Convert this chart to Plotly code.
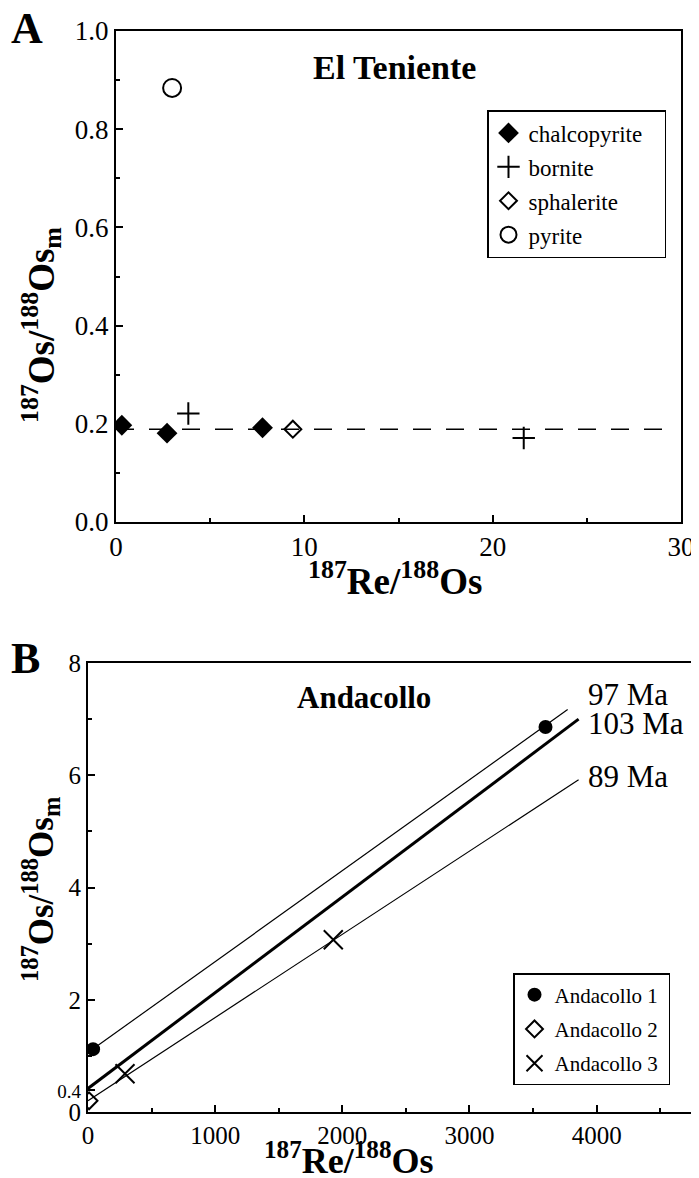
import plotly.graph_objects as go

FONT = "Liberation Serif"
# the page body has an 8px margin; figure sized so it fills the 699x1178 window
OFF = 8
W, H = 699 - OFF, 1178 - OFF
NB = "\u00a0"

# ---------------- Panel A data: El Teniente ----------------
chalco_x = [0.31, 2.71, 7.78]
chalco_y = [0.197, 0.181, 0.192]
bornite_x = [3.84, 21.65]
bornite_y = [0.221, 0.171]
sphal_x = [9.39]
sphal_y = [0.189]
pyrite_x = [2.98]
pyrite_y = [0.884]
ref_line_x = [0.0, 29.3]
ref_line_y = [0.189, 0.189]
a_xticks = [0, 10, 20, 30]
a_yticks = [0.0, 0.2, 0.4, 0.6, 0.8, 1.0]
a_yticktext = ["0.0", "0.2", "0.4", "0.6", "0.8", "1.0"]

# ---------------- Panel B data: Andacollo ----------------
and1_x = [40, 3598]
and1_y = [1.12, 6.86]
and2_x = [8]
and2_y = [0.20]
and3_x = [291, 1929]
and3_y = [0.68, 3.07]
iso_names = ["97 Ma", "103 Ma", "89 Ma"]
iso_x = [[0, 3772], [0, 3858], [0, 3858]]
iso_y = [[1.06, 7.17], [0.42, 7.00], [0.20, 5.92]]
iso_width = [1.2, 3.0, 1.2]
iso_label_x = [3913, 3913, 3913]
iso_label_y = [7.43, 6.93, 5.97]
b_xticks = [0, 1000, 2000, 3000, 4000]
b_yticks = [0, 0.4, 2, 4, 6, 8]
b_yticktext = ["0", "<span style='font-size:19px'>0.4</span>", "2", "4", "6", "8"]


def px(x):
    return (x - OFF) / W


def py(y):
    return 1 - (y - OFF) / H


fig = go.Figure()

# Panel A traces
fig.add_trace(go.Scatter(x=ref_line_x, y=ref_line_y, mode="lines",
                         line=dict(color="black", width=1.4, dash="18px,15px"),
                         showlegend=False, xaxis="x", yaxis="y", hoverinfo="skip"))
fig.add_trace(go.Scatter(x=chalco_x, y=chalco_y, mode="markers", name="chalcopyrite" + NB * 3,
                         marker=dict(symbol="diamond", size=16, color="black"),
                         legend="legend", legendgroup="a1", xaxis="x", yaxis="y"))
fig.add_trace(go.Scatter(x=bornite_x, y=bornite_y, mode="markers", name="bornite",
                         marker=dict(symbol="cross-thin-open", size=16, color="black",
                                     line=dict(width=2, color="black")),
                         legend="legend", legendgroup="a2", xaxis="x", yaxis="y"))
fig.add_trace(go.Scatter(x=sphal_x, y=sphal_y, mode="markers", name="sphalerite",
                         marker=dict(symbol="diamond-open", size=13, color="black",
                                     line=dict(width=2, color="black")),
                         legend="legend", legendgroup="a3", xaxis="x", yaxis="y"))
fig.add_trace(go.Scatter(x=pyrite_x, y=pyrite_y, mode="markers", name="pyrite",
                         marker=dict(symbol="circle-open", size=18, color="black",
                                     line=dict(width=2, color="black")),
                         legend="legend", legendgroup="a4", xaxis="x", yaxis="y"))

# Panel B traces
for nm, xs, ys, wd in zip(iso_names, iso_x, iso_y, iso_width):
    fig.add_trace(go.Scatter(x=xs, y=ys, mode="lines", line=dict(color="black", width=wd),
                             showlegend=False, xaxis="x2", yaxis="y2", name=nm, hoverinfo="skip"))
fig.add_trace(go.Scatter(x=and1_x, y=and1_y, mode="markers", name="Andacollo 1" + NB,
                         marker=dict(symbol="circle", size=14, color="black"),
                         legend="legend2", legendgroup="b1", xaxis="x2", yaxis="y2"))
fig.add_trace(go.Scatter(x=and2_x, y=and2_y, mode="markers", name="Andacollo 2",
                         marker=dict(symbol="diamond-open", size=13, color="black",
                                     line=dict(width=2, color="black")),
                         legend="legend2", legendgroup="b2", xaxis="x2", yaxis="y2"))
fig.add_trace(go.Scatter(x=and3_x, y=and3_y, mode="markers", name="Andacollo 3",
                         marker=dict(symbol="x-thin-open", size=19, color="black",
                                     line=dict(width=2, color="black")),
                         legend="legend2", legendgroup="b3", xaxis="x2", yaxis="y2"))

axis_common = dict(showline=True, linecolor="black", linewidth=2, mirror=True,
                   showgrid=False, zeroline=False, ticks="inside", tickcolor="black",
                   tickwidth=1.5, color="black", automargin=False)

annotations = []
for nm, lx, ly in zip(iso_names, iso_label_x, iso_label_y):
    annotations.append(dict(x=lx, y=ly, xref="x2", yref="y2", text=nm, showarrow=False,
                            xanchor="left", yanchor="middle",
                            font=dict(family=FONT, size=31, color="black")))


def lab(x, y, text, size, angle=0):
    return dict(x=px(x), y=py(y), xref="paper", yref="paper", text=text, showarrow=False,
                xanchor="center", yanchor="middle", textangle=angle,
                font=dict(family=FONT, size=size, color="black"))


annotations += [
    lab(27, 28, "<b>A</b>", 44),
    lab(25, 658, "<b>B</b>", 44),
    lab(395, 67, "<b>El Teniente</b>", 34),
    lab(364, 697, "<b>Andacollo</b>", 31),
    lab(395, 578, "<b><sup>187</sup>Re/<sup>188</sup>Os</b>", 37),
    lab(349, 1158, "<b><sup>187</sup>Re/<sup>188</sup>Os</b>", 36),
    lab(41, 325, "<b><sup>187</sup>Os/<sup>188</sup>Os<sub>m</sub></b>", 37, -90),
    lab(40, 890, "<b><sup>187</sup>Os/<sup>188</sup>Os<sub>m</sub></b>", 35, -90),
]

fig.update_layout(
    width=W, height=H, autosize=False,
    margin=dict(l=0, r=0, t=0, b=0, autoexpand=False),
    paper_bgcolor="white", plot_bgcolor="white",
    font=dict(family=FONT, color="black"),
    xaxis=dict(domain=[px(116), px(681)], range=[0, 30], tickvals=a_xticks,
               ticklen=7, anchor="y",
               minor=dict(dtick=5, tick0=0, ticklen=4, ticks="inside", tickcolor="black"),
               tickfont=dict(family=FONT, size=27), **axis_common),
    yaxis=dict(domain=[py(522), py(31)], range=[0, 1.0], tickvals=a_yticks,
               ticktext=a_yticktext, ticklen=7, anchor="x",
               minor=dict(dtick=0.1, tick0=0, ticklen=4, ticks="inside", tickcolor="black"),
               tickfont=dict(family=FONT, size=27), **axis_common),
    xaxis2=dict(domain=[px(88), px(692)], range=[0, 4750], tickvals=b_xticks,
                ticklen=7, anchor="y2",
                minor=dict(dtick=500, tick0=0, ticklen=4, ticks="inside", tickcolor="black"),
                tickfont=dict(family=FONT, size=25), **axis_common),
    yaxis2=dict(domain=[py(1112), py(663)], range=[0, 8], tickvals=b_yticks,
                ticktext=b_yticktext, ticklen=7, anchor="x2",
                minor=dict(dtick=1, tick0=0, ticklen=4, ticks="inside", tickcolor="black"),
                tickfont=dict(family=FONT, size=25), **axis_common),
    legend=dict(x=px(487), y=py(110), xanchor="left", yanchor="top",
                bordercolor="black", borderwidth=1.5, bgcolor="white",
                font=dict(family=FONT, size=23, color="black"), tracegroupgap=1,
                traceorder="grouped"),
    legend2=dict(x=px(513), y=py(973), xanchor="left", yanchor="top",
                 bordercolor="black", borderwidth=1.5, bgcolor="white",
                 font=dict(family=FONT, size=21, color="black"), tracegroupgap=4,
                 traceorder="grouped"),
    annotations=annotations,
    showlegend=True,
)

fig.write_html("out.html")
